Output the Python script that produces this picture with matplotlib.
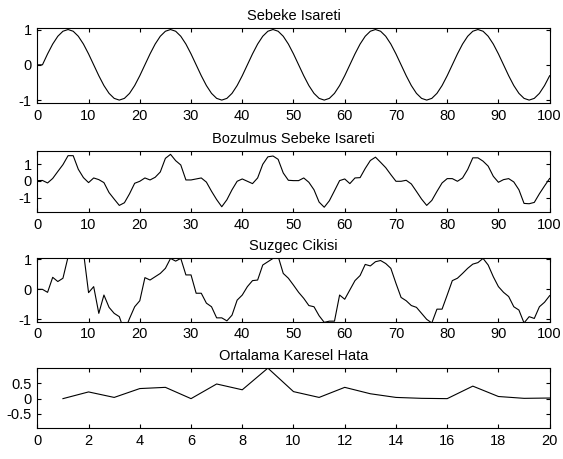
import numpy as np
import matplotlib
matplotlib.use("Agg")
import matplotlib.pyplot as plt

plt.rcParams['font.family'] = ['Liberation Sans', 'DejaVu Sans']
plt.rcParams['axes.unicode_minus'] = False

n = np.arange(0, 101)
sebeke = [0,
          0, 0.309, 0.588, 0.809, 0.951, 1, 0.951, 0.809, 0.588, 0.309,
          0, -0.309, -0.588, -0.809, -0.951, -1, -0.951, -0.809, -0.588, -0.309,
          0, 0.309, 0.588, 0.809, 0.951, 1, 0.951, 0.809, 0.588, 0.309,
          0, -0.309, -0.588, -0.809, -0.951, -1, -0.951, -0.809, -0.588, -0.309,
          0, 0.309, 0.588, 0.809, 0.951, 1, 0.951, 0.809, 0.588, 0.309,
          0, -0.309, -0.588, -0.809, -0.951, -1, -0.951, -0.809, -0.588, -0.309,
          0, 0.309, 0.588, 0.809, 0.951, 1, 0.951, 0.809, 0.588, 0.309,
          0, -0.309, -0.588, -0.809, -0.951, -1, -0.951, -0.809, -0.588, -0.309,
          0, 0.309, 0.588, 0.809, 0.951, 1, 0.951, 0.809, 0.588, 0.309,
          0, -0.309, -0.588, -0.809, -0.951, -1, -0.951, -0.809, -0.588, -0.309]

bozuk = [0.02, 0.03, -0.12, 0.15, 0.57, 0.98, 1.52, 1.52, 0.7, 0.2,
         -0.1, 0.18, 0.08, -0.1, -0.7, -1.09, -1.47, -1.31, -0.77, -0.14,
         -0.02, 0.18, 0.06, 0.22, 0.54, 1.36, 1.6, 1.22, 0.96, 0.06,
         0.06, 0.12, 0.18, -0.07, -0.62, -1.12, -1.55, -1.13, -0.53, -0.02,
         0.12, -0.02, -0.16, 0.18, 1.0, 1.45, 1.5, 1.3, 0.48, 0.04,
         0.02, 0.02, 0.18, -0.08, -0.53, -1.27, -1.58, -1.19, -0.59, 0.02,
         0.12, -0.16, 0.18, 0.2, 0.75, 1.23, 1.43, 1.12, 0.8, 0.38,
         -0.02, -0.02, 0.04, -0.18, -0.63, -1.09, -1.47, -1.17, -0.63, -0.12,
         0.14, 0.14, -0.02, 0.18, 0.69, 1.39, 1.39, 1.19, 0.89, 0.28,
         -0.08, 0.08, 0.14, -0.06, -0.53, -1.35, -1.37, -1.29, -0.77, -0.3,
         0.15]

suzgec = [0, 0, -0.1, 0.4, 0.26, 0.37, 1.08, 1.4, 1.6, 1.25,
          -0.11, 0.09, -0.8, -0.19, -0.6, -0.8, -0.91, -1.4, -0.97, -0.58,
          -0.38, 0.39, 0.31, 0.42, 0.53, 0.7, 1.03, 0.94, 1.03, 0.48,
          0.48, -0.13, -0.13, -0.46, -0.58, -0.95, -0.95, -1.05, -0.86, -0.36,
          -0.19, 0.09, 0.29, 0.31, 0.81, 0.92, 1.03, 1.1, 0.53, 0.37,
          0.14, -0.1, -0.3, -0.54, -0.58, -0.88, -1.1, -1.06, -1.06, -0.19,
          -0.33, -0.02, 0.29, 0.46, 0.83, 0.78, 0.92, 0.96, 0.86, 0.7,
          0.2, -0.27, -0.38, -0.54, -0.6, -0.8, -1.0, -1.12, -0.66, -0.66,
          -0.19, 0.29, 0.37, 0.53, 0.7, 0.84, 0.89, 1.03, 0.81, 0.42,
          0.09, -0.1, -0.24, -0.58, -0.69, -1.12, -0.91, -0.97, -0.58, -0.43,
          -0.21]

iterasyon = np.arange(1, 21)
hata = [0, 0.22, 0.04, 0.33, 0.37, 0, 0.48, 0.29, 1.0, 0.23,
        0.04, 0.37, 0.16, 0.04, 0.01, 0, 0.41, 0.07, 0.01, 0.02]

fig = plt.figure(figsize=(5.63, 4.59), dpi=100)

L, W = 0.0663, 0.910
axs = [fig.add_axes([L, 0.775, W, 0.163]),
       fig.add_axes([L, 0.538, W, 0.133]),
       fig.add_axes([L, 0.299, W, 0.138]),
       fig.add_axes([L, 0.067, W, 0.131])]

axs[0].plot(n, sebeke, color='k', lw=0.8)
axs[0].set_ylim(-1.09, 1.03)
axs[0].set_yticks([-1, 0, 1])
axs[0].set_title('Sebeke Isareti')

axs[1].plot(n, bozuk, color='k', lw=0.8)
axs[1].set_ylim(-1.87, 1.8)
axs[1].set_yticks([-1, 0, 1])
axs[1].set_title('Bozulmus Sebeke Isareti')

axs[2].plot(n, suzgec, color='k', lw=0.8)
axs[2].set_ylim(-1.08, 1.03)
axs[2].set_yticks([-1, 0, 1])
axs[2].set_title('Suzgec Cikisi')

for ax in axs[:3]:
    ax.set_xlim(0, 100)
    ax.set_xticks(np.arange(0, 101, 10))

axs[3].plot(iterasyon, hata, color='k', lw=0.8)
axs[3].set_xlim(0, 20)
axs[3].set_xticks(np.arange(0, 21, 2))
axs[3].set_ylim(-0.97, 1.0)
axs[3].set_yticks([-0.5, 0, 0.5])
axs[3].set_yticklabels(['-0.5', '0', '0.5'])
axs[3].set_title('Ortalama Karesel Hata')

for ax in axs:
    ax.tick_params(direction='in', top=True, right=True, length=3,
                   width=0.8, labelsize=10.5, pad=4)
    ax.title.set_fontsize(10.5)
    ax.title.set_y(1.0)
    for s in ax.spines.values():
        s.set_linewidth(0.8)

fig.savefig('out.png', dpi=100)
